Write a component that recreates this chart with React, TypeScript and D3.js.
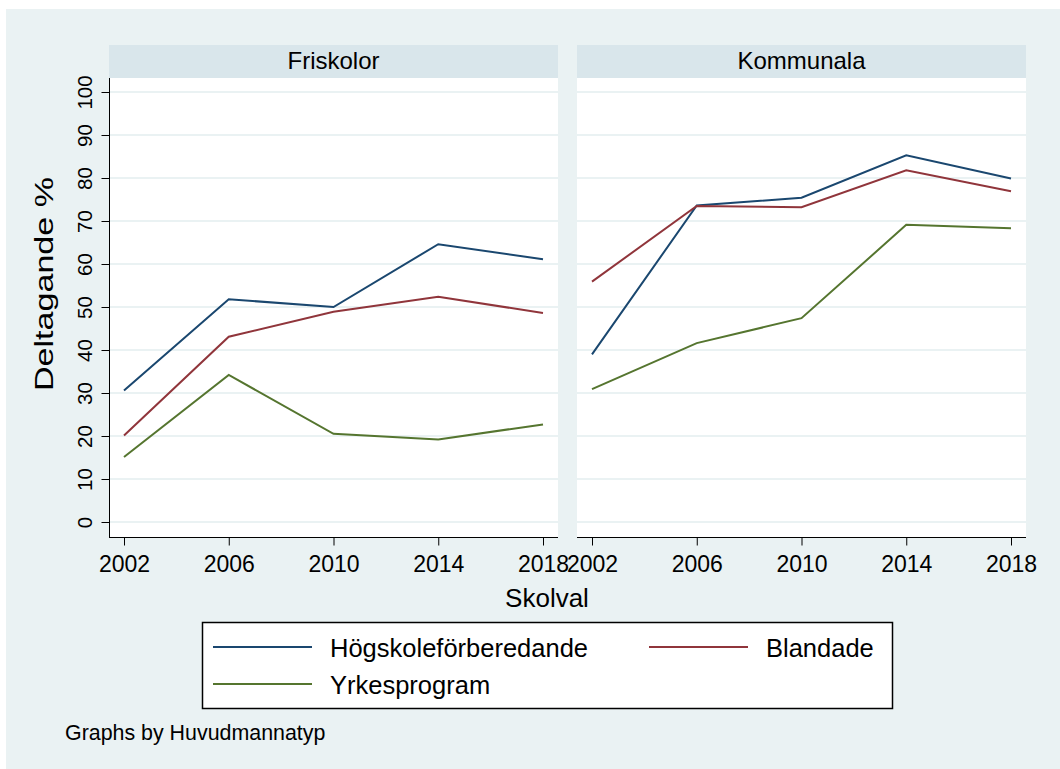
import * as d3 from "d3";
import { useEffect, useRef } from "react";

// values (Deltagande %)
const panels = ["Friskolor", "Kommunala"];
const years = [2002, 2006, 2010, 2014, 2018];
const seriesNames = ["Högskoleförberedande", "Blandade", "Yrkesprogram"];
const seriesColors = ["#1a476f", "#90353b", "#55752f"];

const friskolorHogskole = [30.6, 51.8, 50.0, 64.6, 61.1];
const friskolorBlandade = [20.1, 43.1, 48.9, 52.4, 48.6];
const friskolorYrkes = [15.1, 34.2, 20.5, 19.2, 22.7];

const kommunalaHogskole = [39.0, 73.6, 75.4, 85.3, 79.9];
const kommunalaBlandade = [55.9, 73.5, 73.2, 81.8, 76.9];
const kommunalaYrkes = [30.9, 41.6, 47.4, 69.1, 68.3];

const yTicks = [0, 10, 20, 30, 40, 50, 60, 70, 80, 90, 100];

const panelData = [
  [friskolorHogskole, friskolorBlandade, friskolorYrkes],
  [kommunalaHogskole, kommunalaBlandade, kommunalaYrkes],
];

const W = 1060;
const H = 769;
const font = "'Liberation Sans', Arial, Helvetica, sans-serif";
const bg = "#eaf2f3";

export default function App() {
  const ref = useRef<SVGSVGElement>(null);

  useEffect(() => {
    drawChart();
  }, []);

  function drawChart() {
    const svg = d3.select(ref.current);
    svg.selectAll("*").remove();

    svg.append("rect").attr("x", 6).attr("y", 9).attr("width", W - 6).attr("height", H - 9).attr("fill", bg);

    const plotTop = 78;
    const plotBottom = 537;
    const headerTop = 45;
    const panelBounds = [
      [109, 558],
      [577, 1026],
    ];

    const y = d3.scaleLinear().domain([0, 100]).range([522, 92]);

    panels.forEach((name, p) => {
      const [left, right] = panelBounds[p];
      const x = d3.scaleLinear().domain([2002, 2018]).range([left + 15, right - 15]);
      const g = svg.append("g");

      // header strip
      g.append("rect").attr("x", left).attr("y", headerTop).attr("width", right - left).attr("height", plotTop - headerTop).attr("fill", "#d9e6eb");
      g.append("text")
        .attr("x", (left + right) / 2).attr("y", 69)
        .attr("text-anchor", "middle")
        .style("font-family", font).style("font-size", "24px").attr("fill", "#000")
        .text(name);

      // plot area
      g.append("rect").attr("x", left).attr("y", plotTop).attr("width", right - left).attr("height", plotBottom - plotTop).attr("fill", "#fff");

      // gridlines
      g.selectAll(".grid").data(yTicks).enter().append("line")
        .attr("x1", left).attr("x2", right)
        .attr("y1", d => y(d)).attr("y2", d => y(d))
        .attr("stroke", bg).attr("stroke-width", 2);

      // series lines
      const line = d3.line<number>().x((d, i) => x(years[i])).y(d => y(d));
      panelData[p].forEach((vals, s) => {
        g.append("path").datum(vals)
          .attr("d", line)
          .attr("fill", "none")
          .attr("stroke", seriesColors[s])
          .attr("stroke-width", 2);
      });

      // x axis
      const xAxis = g.append("g").attr("transform", "translate(0," + (plotBottom + 0.5) + ")")
        .call(d3.axisBottom(x).tickValues(years).tickFormat(d3.format("d")).tickSize(8).tickSizeOuter(0));
      xAxis.select(".domain").remove();
      xAxis.append("line").attr("x1", left).attr("x2", right).attr("stroke", "#000").attr("stroke-width", 1);
      xAxis.selectAll("text")
        .attr("y", 34).attr("dy", 0)
        .attr("fill", "#000")
        .style("font-family", font).style("font-size", "23px");

      if (p === 0) {
        const yAxis = g.append("g").attr("transform", "translate(" + (left + 0.5) + ",0)")
          .call(d3.axisLeft(y).tickValues(yTicks).tickSize(8).tickSizeOuter(0));
        yAxis.select(".domain").remove();
        yAxis.append("line").attr("y1", plotTop).attr("y2", plotBottom).attr("stroke", "#000").attr("stroke-width", 1);
        yAxis.selectAll("text")
          .attr("x", 0).attr("dy", 0)
          .attr("transform", "translate(-17.5,0) rotate(-90)")
          .attr("text-anchor", "middle")
          .attr("fill", "#000")
          .style("font-family", font).style("font-size", "20.5px");
      }
    });

    // axis titles
    svg.append("text")
      .attr("transform", "translate(53,284) rotate(-90)")
      .attr("text-anchor", "middle")
      .style("font-family", font).style("font-size", "26px")
      .attr("textLength", 214).attr("lengthAdjust", "spacingAndGlyphs")
      .text("Deltagande %");
    svg.append("text")
      .attr("x", 547).attr("y", 607)
      .attr("text-anchor", "middle")
      .style("font-family", font).style("font-size", "26px")
      .text("Skolval");

    // legend
    const lg = svg.append("g");
    lg.append("rect").attr("x", 202.5).attr("y", 622.5).attr("width", 690).attr("height", 86)
      .attr("fill", "#fff").attr("stroke", "#000").attr("stroke-width", 1.5);
    const legendPos = [
      [213, 647],
      [649, 647],
      [213, 684],
    ];
    seriesNames.forEach((n, i) => {
      const [lx, ly] = legendPos[i];
      lg.append("line").attr("x1", lx).attr("x2", lx + 99).attr("y1", ly).attr("y2", ly)
        .attr("stroke", seriesColors[i]).attr("stroke-width", 2);
      lg.append("text").attr("x", lx + 117).attr("y", ly + 9.5)
        .style("font-family", font).style("font-size", "25.5px")
        .text(n);
    });

    svg.append("text")
      .attr("x", 65).attr("y", 740)
      .style("font-family", font).style("font-size", "21.4px")
      .text("Graphs by Huvudmannatyp");
  }

  return (
    <svg ref={ref} width={W} height={H} style={{ position: "absolute", left: 0, top: 0, background: "#fff" }}></svg>
  );
}
